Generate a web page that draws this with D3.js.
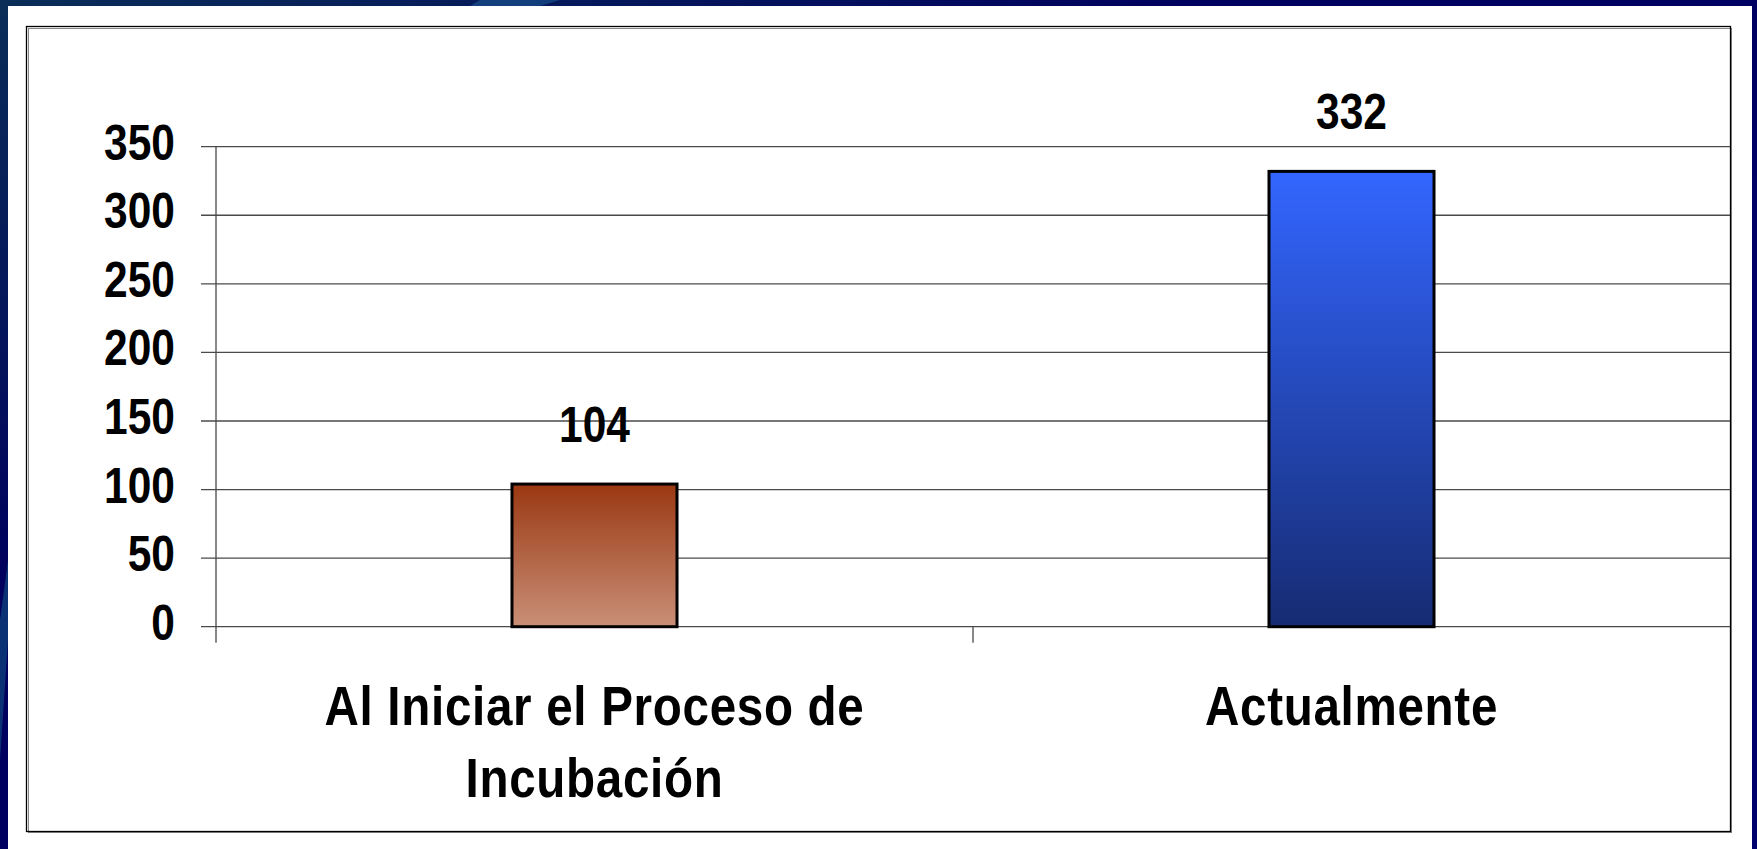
<!DOCTYPE html>
<html>
<head>
<meta charset="utf-8">
<script src="https://cdn.jsdelivr.net/npm/d3@7"></script>
<style>
  html, body { margin: 0; padding: 0; background: #00006a; overflow: hidden; }
  svg { display: block; }
</style>
</head>
<body>
<div id="chart"></div>
<script>
// chart data
var categories = ["Al Iniciar el Proceso de Incubación", "Actualmente"];
var categoryLines = [["Al Iniciar el Proceso de", "Incubación"], ["Actualmente"]];
var values = [104, 332];
var yTicks = [0, 50, 100, 150, 200, 250, 300, 350];
var barColors = [["#9a3812", "#c98f77"], ["#3366ff", "#162b72"]];

var W = 1757, H = 849;
var plotLeft = 216, plotRight = 1730, plotTop = 146.7, plotBottom = 626.7;
var squeeze = 0.85; // the source text is horizontally condensed

var svg = d3.select('#chart').append('svg')
    .attr('width', W)
    .attr('height', H);

var defs = svg.append('defs');

// slide background
var bg = defs.append('linearGradient').attr('id', 'bg')
    .attr('x1', 0).attr('y1', 0).attr('x2', 1).attr('y2', 1);
bg.append('stop').attr('offset', '0%').attr('stop-color', '#0a2e58');
bg.append('stop').attr('offset', '35%').attr('stop-color', '#00005e');
bg.append('stop').attr('offset', '100%').attr('stop-color', '#00006e');
svg.append('rect').attr('width', W).attr('height', H).attr('fill', 'url(#bg)');
svg.append('path')
    .attr('d', 'M0,620 L8,560 L8,640 L0,760 Z')
    .attr('fill', '#0d3d78').attr('opacity', 0.8);
svg.append('path')
    .attr('d', 'M480,0 L560,0 L540,6 L470,6 Z')
    .attr('fill', '#1a4f8c').attr('opacity', 0.7);

// white panel and chart frame
svg.append('rect')
    .attr('x', 8).attr('y', 6)
    .attr('width', 1744).attr('height', H - 6)
    .attr('fill', '#ffffff');
svg.append('rect')
    .attr('x', 27.5).attr('y', 27.5)
    .attr('width', 1703).attr('height', 804)
    .attr('fill', 'none')
    .attr('stroke', '#8a8a8a')
    .attr('stroke-width', 1)
    .attr('transform', 'translate(1,1)');
svg.append('rect')
    .attr('x', 26.5).attr('y', 26.5)
    .attr('width', 1704).attr('height', 805)
    .attr('fill', 'none')
    .attr('stroke', '#000')
    .attr('stroke-width', 1.3);

// scales
var x = d3.scaleBand()
    .domain(categories)
    .range([plotLeft, plotRight])
    .paddingInner(0.782)
    .paddingOuter(0.391);
var slot = d3.scaleBand()
    .domain(categories)
    .range([plotLeft, plotRight]);
var y = d3.scaleLinear()
    .domain([0, 350])
    .range([plotBottom, plotTop]);

// gridlines + y ticks
var grid = svg.append('g').attr('class', 'grid');
grid.selectAll('line')
    .data(yTicks)
    .enter()
    .append('line')
    .attr('x1', plotLeft - 15)
    .attr('x2', plotRight)
    .attr('y1', function (d) { return y(d); })
    .attr('y2', function (d) { return y(d); })
    .attr('stroke', '#4a4a4a')
    .attr('stroke-width', 1.3);

// y axis line, extends below to the category ticks
svg.append('line')
    .attr('x1', plotLeft).attr('x2', plotLeft)
    .attr('y1', plotTop).attr('y2', plotBottom + 16)
    .attr('stroke', '#4a4a4a')
    .attr('stroke-width', 1.3);

// category separator ticks
svg.selectAll('.xtick')
    .data(categories.slice(1))
    .enter()
    .append('line')
    .attr('class', 'xtick')
    .attr('x1', function (d) { return slot(d); })
    .attr('x2', function (d) { return slot(d); })
    .attr('y1', plotBottom)
    .attr('y2', plotBottom + 16)
    .attr('stroke', '#4a4a4a')
    .attr('stroke-width', 1.3);

// y tick labels
svg.selectAll('.ylabel')
    .data(yTicks)
    .enter()
    .append('text')
    .attr('class', 'ylabel')
    .attr('transform', function (d) {
        return 'translate(175,' + (y(d) + 13) + ') scale(' + squeeze + ',1)';
    })
    .attr('text-anchor', 'end')
    .style('font-family', '"Liberation Sans", Arial, sans-serif')
    .style('font-weight', 'bold')
    .style('font-size', '50px')
    .style('fill', '#000')
    .text(function (d) { return d; });

// bar gradients
var grads = defs.selectAll('.bargrad')
    .data(barColors)
    .enter()
    .append('linearGradient')
    .attr('class', 'bargrad')
    .attr('id', function (d, i) { return 'bar' + i; })
    .attr('x1', 0).attr('y1', 0).attr('x2', 0).attr('y2', 1);
grads.append('stop').attr('offset', '0%').attr('stop-color', function (d) { return d[0]; });
grads.append('stop').attr('offset', '100%').attr('stop-color', function (d) { return d[1]; });

// bars
svg.selectAll('.bar')
    .data(values)
    .enter()
    .append('rect')
    .attr('class', 'bar')
    .attr('x', function (d, i) { return x(categories[i]); })
    .attr('y', function (d) { return y(d); })
    .attr('width', x.bandwidth())
    .attr('height', function (d) { return y(0) - y(d); })
    .attr('fill', function (d, i) { return 'url(#bar' + i + ')'; })
    .attr('stroke', '#000')
    .attr('stroke-width', 3);

// value labels
svg.selectAll('.vlabel')
    .data(values)
    .enter()
    .append('text')
    .attr('class', 'vlabel')
    .attr('transform', function (d, i) {
        var cx = x(categories[i]) + x.bandwidth() / 2;
        return 'translate(' + cx + ',' + (y(d) - 42) + ') scale(' + squeeze + ',1)';
    })
    .attr('text-anchor', 'middle')
    .style('font-family', '"Liberation Sans", Arial, sans-serif')
    .style('font-weight', 'bold')
    .style('font-size', '50px')
    .style('fill', '#000')
    .text(function (d) { return d; });

// category labels
svg.selectAll('.clabel')
    .data(categoryLines)
    .enter()
    .append('g')
    .attr('class', 'clabel')
    .each(function (lines, i) {
        var g = d3.select(this);
        var cx = slot(categories[i]) + slot.bandwidth() / 2;
        lines.forEach(function (line, j) {
            g.append('text')
                .attr('transform', 'translate(' + cx + ',' + (725 + j * 72) + ') scale(' + squeeze + ',1)')
                .attr('text-anchor', 'middle')
                .style('font-family', '"Liberation Sans", Arial, sans-serif')
                .style('font-weight', 'bold')
                .style('font-size', '56px')
                .style('letter-spacing', '0.8px')
                .style('fill', '#000')
                .text(line);
        });
    });
</script>
</body>
</html>
